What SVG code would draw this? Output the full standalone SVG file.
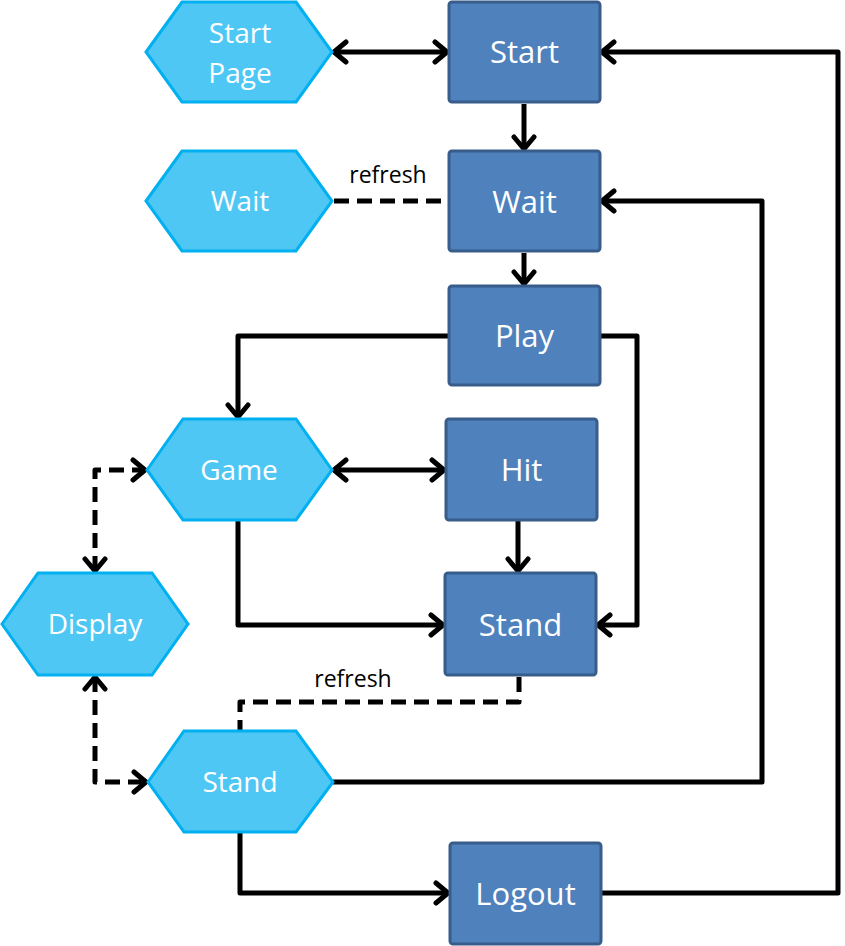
<svg xmlns="http://www.w3.org/2000/svg" width="845" height="946" viewBox="0 0 845 946">
<style>
.box{fill:#4F81BD;stroke:#385D8A;stroke-width:3}
.hex{fill:#4FC7F4;stroke:#00B0F0;stroke-width:3}
.bt{font-family:"Open Sans","Liberation Sans",sans-serif;font-size:31px;fill:#fff;text-anchor:middle}
.ht{font-family:"Open Sans","Liberation Sans",sans-serif;font-size:28px;fill:#fff;text-anchor:middle}
.lbl{font-family:"Open Sans","Liberation Sans",sans-serif;font-size:23px;fill:#000;text-anchor:middle}
.c{fill:none;stroke:#000;stroke-width:5;stroke-linejoin:round}
.d{stroke-dasharray:15 8}
</style>
<defs>
<marker id="ah" viewBox="0 0 18 26" refX="15" refY="13" markerWidth="18" markerHeight="26" markerUnits="userSpaceOnUse" orient="auto-start-reverse">
<polyline points="3,3 15,13 3,23" fill="none" stroke="#000" stroke-width="5" stroke-linecap="round" stroke-linejoin="round"/>
</marker>
</defs>
<g id="connectors">
<path class="c" d="M334,52 H447" marker-start="url(#ah)" marker-end="url(#ah)"/>
<path class="c" d="M524,104 V149" marker-end="url(#ah)"/>
<path class="c d" d="M334,201 H449"/>
<text class="lbl" x="388" y="183">refresh</text>
<path class="c" d="M524,253 V284" marker-end="url(#ah)"/>
<path class="c" d="M449,336 H238 V417" marker-end="url(#ah)"/>
<path class="c" d="M600,336 H637 V625 H598" marker-end="url(#ah)"/>
<path class="c" d="M334,470 H444" marker-start="url(#ah)" marker-end="url(#ah)"/>
<path class="c" d="M518,520 V571" marker-end="url(#ah)"/>
<path class="c" d="M238,520 V625 H443" marker-end="url(#ah)"/>
<path class="c d" d="M95,571 V470 H145" marker-start="url(#ah)" marker-end="url(#ah)"/>
<path class="c d" d="M95,677 V782 H146" marker-start="url(#ah)" marker-end="url(#ah)"/>
<path class="c d" d="M519,677 V702 H240 V730"/>
<text class="lbl" x="353" y="687">refresh</text>
<path class="c" d="M333,782 H762 V201 H602" marker-end="url(#ah)"/>
<path class="c" d="M240,832 V893 H448" marker-end="url(#ah)"/>
<path class="c" d="M601,893 H838 V52 H602" marker-end="url(#ah)"/>
</g>
<g id="startpage">
<polygon class="hex" points="146,52 182,2 296,2 332,52 296,102 182,102"/>
<text class="ht" x="240" y="43">Start</text>
<text class="ht" x="240" y="83">Page</text>
</g>
<g id="start">
<rect class="box" x="449" y="2" width="151" height="100" rx="3"/>
<text class="bt" x="524.5" y="63">Start</text>
</g>
<g id="waithex">
<polygon class="hex" points="146,201 182,151 296,151 332,201 296,251 182,251"/>
<text class="ht" x="240" y="211">Wait</text>
</g>
<g id="wait">
<rect class="box" x="449" y="151" width="151" height="100" rx="3"/>
<text class="bt" x="524.5" y="213">Wait</text>
</g>
<g id="play">
<rect class="box" x="449" y="286" width="151" height="99" rx="3"/>
<text class="bt" x="524.5" y="347">Play</text>
</g>
<g id="game">
<polygon class="hex" points="147,470 183,419 296,419 332,470 296,520 183,520"/>
<text class="ht" x="239" y="480">Game</text>
</g>
<g id="hit">
<rect class="box" x="446" y="419" width="151" height="101" rx="3"/>
<text class="bt" x="521.5" y="481">Hit</text>
</g>
<g id="display">
<polygon class="hex" points="2,624 38,573 152,573 188,624 152,675 38,675"/>
<text class="ht" x="95" y="634">Display</text>
</g>
<g id="standbox">
<rect class="box" x="445" y="573" width="151" height="102" rx="3"/>
<text class="bt" x="520.5" y="636">Stand</text>
</g>
<g id="standhex">
<polygon class="hex" points="148,782 184,731 296,731 333,782 296,832 184,832"/>
<text class="ht" x="240" y="792">Stand</text>
</g>
<g id="logout">
<rect class="box" x="450" y="843" width="151" height="101" rx="3"/>
<text class="bt" x="525.5" y="905">Logout</text>
</g>
</svg>
